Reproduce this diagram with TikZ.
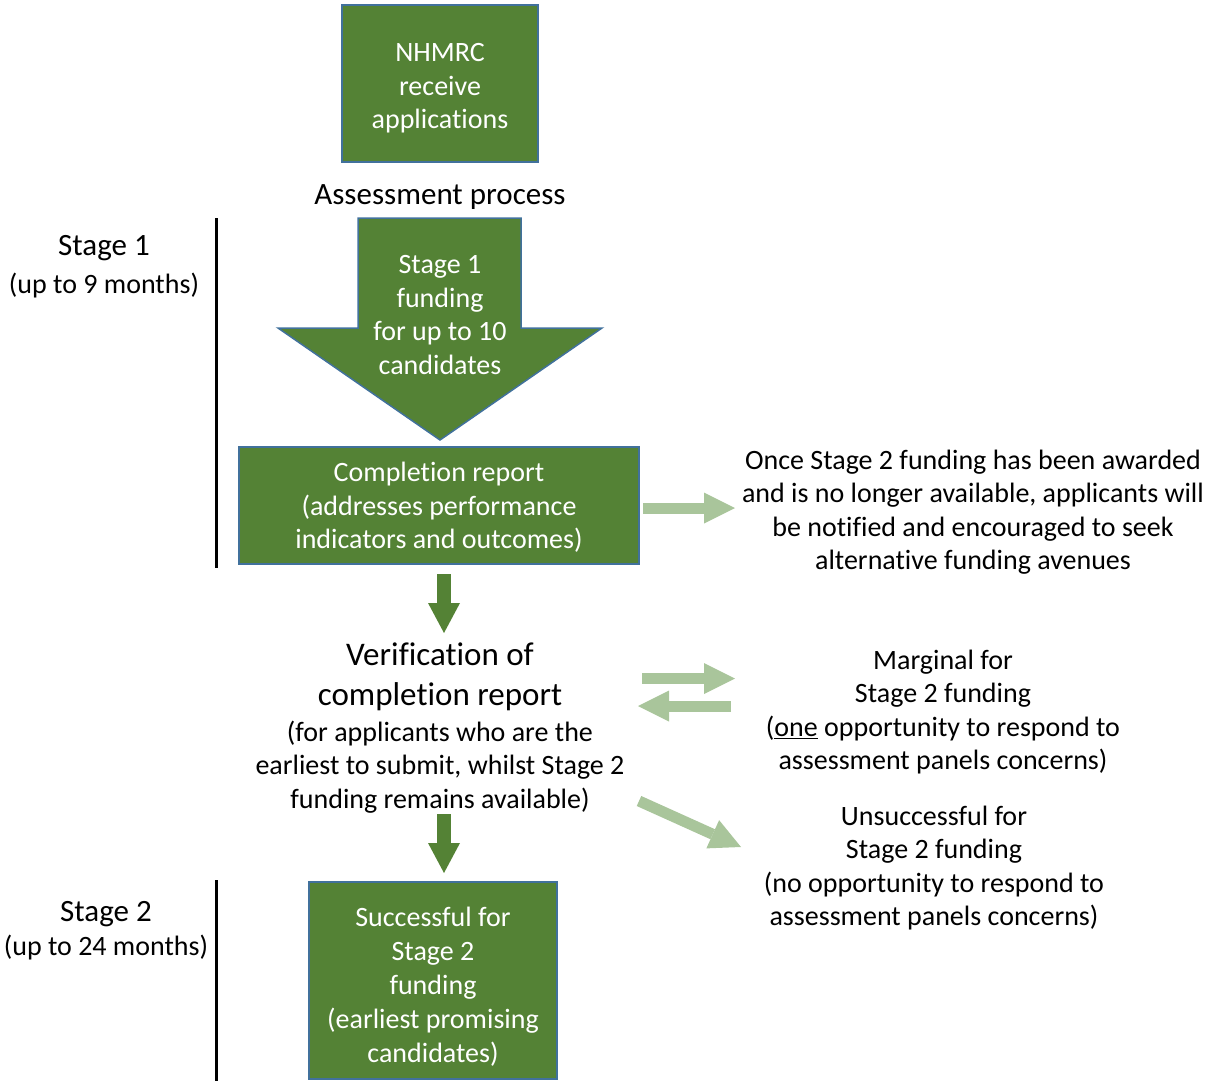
\documentclass[tikz,border=0pt]{standalone}
\usepackage{fontspec}
\setmainfont[Ligatures={NoCommon}]{Carlito}
\usetikzlibrary{arrows.meta}
\definecolor{boxgreen}{HTML}{548235}
\definecolor{boxedge}{HTML}{41719C}
\definecolor{palegreen}{HTML}{A9C59B}
\tikzset{
    greenbox/.style={draw=boxedge, line width=2pt, fill=boxgreen, inner sep=0pt},
    plaintext/.style={align=center, inner sep=0pt, font=\fontsize{28}{33.5}\selectfont},
    boxtext/.style={plaintext, text=white},
    darkarrow/.style={draw=boxgreen, line width=14pt, -{Triangle[length=30pt,width=32pt,line width=0pt]}},
    palearrow/.style={draw=palegreen, line width=11pt, -{Triangle[length=31pt,width=31pt,line width=0pt]}},
}
\begin{document}
\begin{tikzpicture}[x=1pt,y=-1pt]
    \useasboundingbox (0,0) rectangle (1205,1081);
    \node[greenbox, minimum width=196pt, minimum height=157pt] (nhmrc) at (440,83.5) {};
    \node[boxtext] (nhmrctext) at (440,88.5) {NHMRC\\receive\\applications};
    \node[plaintext, font=\fontsize{31}{38}\selectfont] (assess) at (440,197) {Assessment process};
    % stage bars
    \draw[line width=3pt] (216,218) -- (216,568);
    \draw[line width=3pt] (216,880) -- (216,1081);
    \node[plaintext, font=\fontsize{31}{38}\selectfont] (stageone) at (104,267) {Stage 1\\\fontsize{28}{30}\selectfont(up to 9 months)};
    \node[plaintext, font=\fontsize{31}{34}\selectfont] (stagetwo) at (106,931) {Stage 2\\\fontsize{28}{30}\selectfont(up to 24 months)};
    % big arrow
    \draw[fill=boxgreen, draw=boxedge, line width=1.5pt] (358,218) -- (521,218) -- (521,328) -- (602,328) -- (440,440) -- (278,328) -- (358,328) -- cycle;
    \node[boxtext] (fundone) at (440,315) {Stage 1\\funding\\for up to 10\\candidates};
    \node[greenbox, minimum width=400pt, minimum height=117pt] (report) at (439,505.5) {};
    \node[boxtext] (reporttext) at (439,507.5) {Completion report\\(addresses performance\\indicators and outcomes)};
    \node[plaintext] (notify) at (973,512) {Once Stage 2 funding has been awarded\\and is no longer available, applicants will\\be notified and encouraged to seek\\alternative funding avenues};
    \node[plaintext, font=\fontsize{33}{40}\selectfont] (verif) at (440,677) {Verification of\\completion report};
    \node[plaintext] (verifnote) at (440,767) {(for applicants who are the\\earliest to submit, whilst Stage 2\\funding remains available)};
    \node[plaintext] (marginal) at (943,712) {Marginal for\\Stage 2 funding\\(\underline{one} opportunity to respond to\\assessment panels concerns)};
    \node[plaintext] (unsucc) at (934,868) {Unsuccessful for\\Stage 2 funding\\(no opportunity to respond to\\assessment panels concerns)};
    \node[greenbox, minimum width=248pt, minimum height=197pt] (success) at (433,980.5) {};
    \node[boxtext, font=\fontsize{28}{34}\selectfont] (successtext) at (433,986.5) {Successful for\\Stage 2\\funding\\(earliest promising\\candidates)};
    % arrows
    \coordinate (tipa) at (444,633);
    \coordinate (tipb) at (444,873);
    \coordinate (tipc) at (735,508);
    \coordinate (tipd) at (735,678.5);
    \coordinate (tipe) at (638,706);
    \coordinate (tipf) at (741,847);
    \draw[darkarrow] (report.south -| tipa) ++(0,9) -- (tipa);
    \draw[darkarrow] (444,814) -- (tipb);
    \draw[palearrow] (report.east) ++(3,2.5) -- (tipc);
    \draw[palearrow] (642,678.5) -- (tipd);
    \draw[palearrow] (731,706) -- (tipe);
    \draw[palearrow] (639,801) -- (tipf);
\end{tikzpicture}
\end{document}
